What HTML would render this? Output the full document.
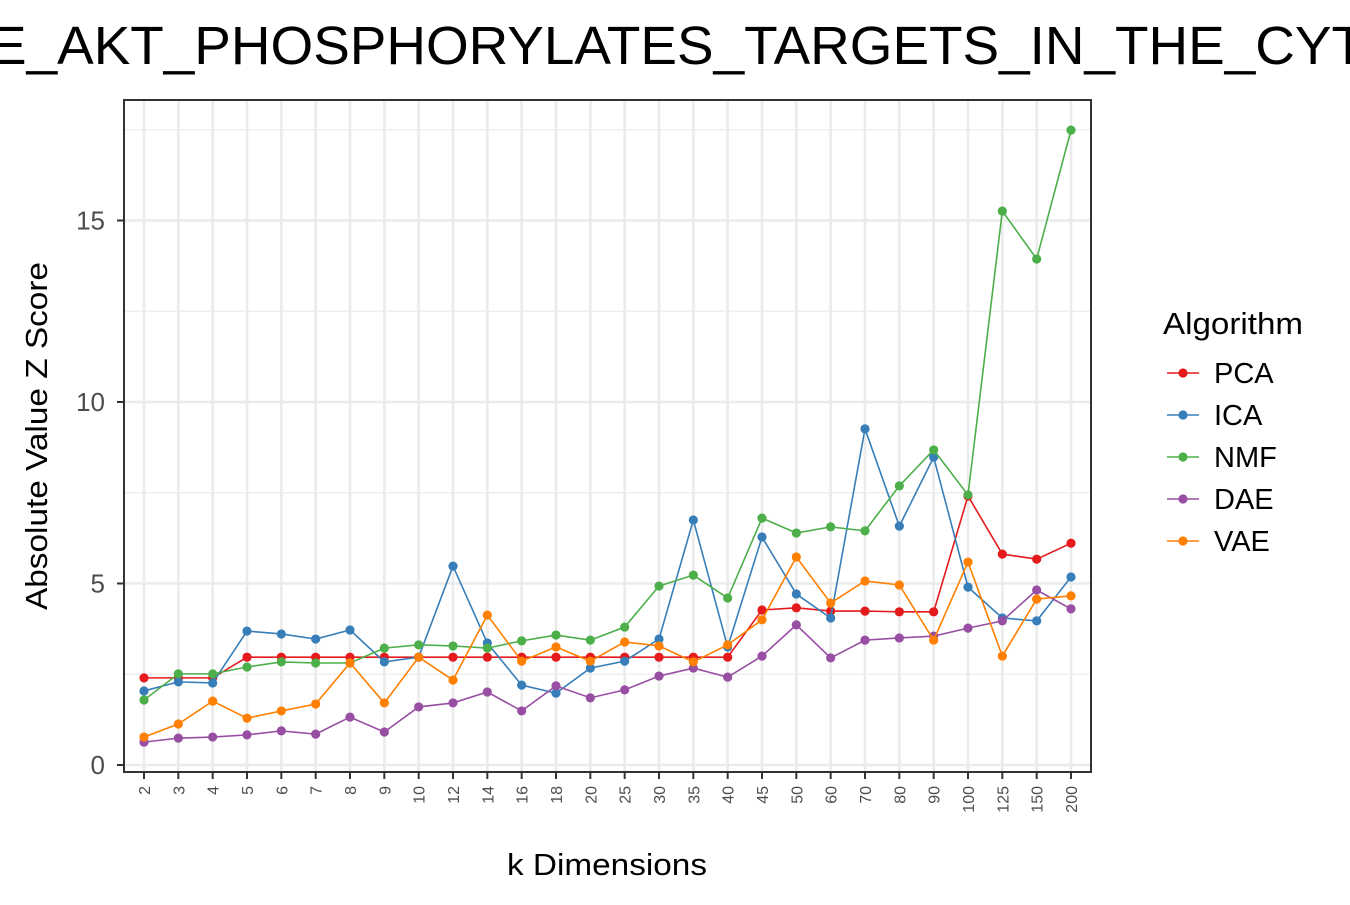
<!DOCTYPE html>
<html><head><meta charset="utf-8"><style>
body{margin:0;background:#fff;}
svg text{font-family:"Liberation Sans",Arial,sans-serif;}
</style></head><body>
<svg id="chart" width="1350" height="900" xmlns="http://www.w3.org/2000/svg">
<text x="-10" y="64" font-size="54" textLength="1375" lengthAdjust="spacingAndGlyphs">E_AKT_PHOSPHORYLATES_TARGETS_IN_THE_CYT</text>
<g id="grid"></g>
<g id="series"></g>
<rect x="124" y="100" width="967" height="672" fill="none" stroke="#333" stroke-width="2"/>
<g id="axes"></g>
<text x="607" y="875" font-size="31" text-anchor="middle" textLength="200" lengthAdjust="spacingAndGlyphs">k Dimensions</text>
<text transform="translate(47,436) rotate(-90)" font-size="31" text-anchor="middle" textLength="348" lengthAdjust="spacingAndGlyphs">Absolute Value Z Score</text>
<g id="legend">
<text x="1163" y="334" font-size="31" textLength="140" lengthAdjust="spacingAndGlyphs">Algorithm</text>
</g>
</svg>
<script>
const categories=["2","3","4","5","6","7","8","9","10","12","14","16","18","20","25","30","35","40","45","50","60","70","80","90","100","125","150","200"];
const seriesNames=["PCA","ICA","NMF","DAE","VAE"];
const seriesColors=["#e41a1c","#377eb8","#4daf4a","#984ea3","#ff7f00"];
const pca=[2.4,2.4,2.4,2.97,2.97,2.97,2.97,2.97,2.97,2.97,2.97,2.97,2.97,2.97,2.97,2.97,2.97,2.97,4.27,4.33,4.24,4.24,4.22,4.22,7.41,5.81,5.67,6.11];
const ica=[2.04,2.29,2.26,3.69,3.61,3.47,3.72,2.84,2.97,5.48,3.36,2.2,1.98,2.67,2.86,3.47,6.75,3.25,6.28,4.71,4.05,9.26,6.58,8.48,4.9,4.05,3.97,5.18];
const nmf=[1.79,2.51,2.51,2.7,2.84,2.81,2.81,3.22,3.31,3.28,3.22,3.42,3.58,3.44,3.8,4.93,5.23,4.6,6.8,6.39,6.56,6.45,7.69,8.68,7.44,15.26,13.94,17.49];
const dae=[0.63,0.74,0.77,0.83,0.94,0.85,1.32,0.91,1.6,1.71,2.01,1.49,2.18,1.85,2.07,2.45,2.67,2.42,3.0,3.86,2.95,3.44,3.5,3.55,3.77,3.97,4.82,4.3];
const vae=[0.77,1.13,1.76,1.29,1.49,1.68,2.81,1.71,2.97,2.34,4.13,2.86,3.25,2.86,3.39,3.28,2.84,3.31,4.0,5.73,4.46,5.07,4.96,3.44,5.59,3.0,4.57,4.66];
const yTicks=[0,5,10,15];
const yMinor=[2.5,7.5,12.5,17.5];
const allSeries=[pca,ica,nmf,dae,vae];
const NS="http://www.w3.org/2000/svg";
const X0=144,X1=1071,Y0=765,PX=36.3;
function xs(i){return X0+i*(X1-X0)/(categories.length-1);}
function ys(v){return Y0-v*PX;}
function mk(t,a,p){const e=document.createElementNS(NS,t);for(const k in a)e.setAttribute(k,a[k]);p.appendChild(e);return e;}
const grid=document.getElementById('grid'),axes=document.getElementById('axes'),ser=document.getElementById('series'),leg=document.getElementById('legend');
yMinor.forEach(v=>{const l=mk('line',{x1:124,x2:1091,y1:ys(v),y2:ys(v),stroke:'#ebebeb','stroke-width':1.3},grid);

});
yTicks.forEach(v=>{const l=mk('line',{x1:124,x2:1091,y1:ys(v),y2:ys(v),stroke:'#ebebeb','stroke-width':2.6},grid);


const t=mk('line',{x1:117,x2:124,y1:ys(v),y2:ys(v),stroke:'#333','stroke-width':2},axes);


const tx=mk('text',{x:105,y:ys(v)+9,'font-size':26,'text-anchor':'end',fill:'#4d4d4d'},axes);tx.textContent=v;

});
categories.forEach((c,i)=>{const x=xs(i);
const l=mk('line',{x1:x,x2:x,y1:100,y2:772,stroke:'#ebebeb','stroke-width':2.6},grid);


const t=mk('line',{x1:x,x2:x,y1:772,y2:779,stroke:'#333','stroke-width':2},axes);


const tx=mk('text',{transform:`translate(${x+6},786) rotate(-90)`,'font-size':16,'text-anchor':'end',fill:'#4d4d4d'},axes);tx.textContent=c;

});
allSeries.forEach((d,s)=>{const g=mk('g',{},ser);


const pl=mk('polyline',{points:d.map((v,i)=>xs(i)+','+ys(v)).join(' '),fill:'none',stroke:seriesColors[s],'stroke-width':1.6},g);


d.forEach((v,i)=>{const c=mk('circle',{cx:xs(i),cy:ys(v),r:4.6,fill:seriesColors[s]},g);

});
const ly=373+s*42;
const lg=mk('g',{},leg);


mk('line',{x1:1167,x2:1199,y1:ly,y2:ly,stroke:seriesColors[s],'stroke-width':1.6},lg);
mk('circle',{cx:1183,cy:ly,r:4.6,fill:seriesColors[s]},lg);
const tx=mk('text',{x:1214,y:ly+10,'font-size':29},lg);tx.textContent=seriesNames[s];});
</script>
</body></html>
